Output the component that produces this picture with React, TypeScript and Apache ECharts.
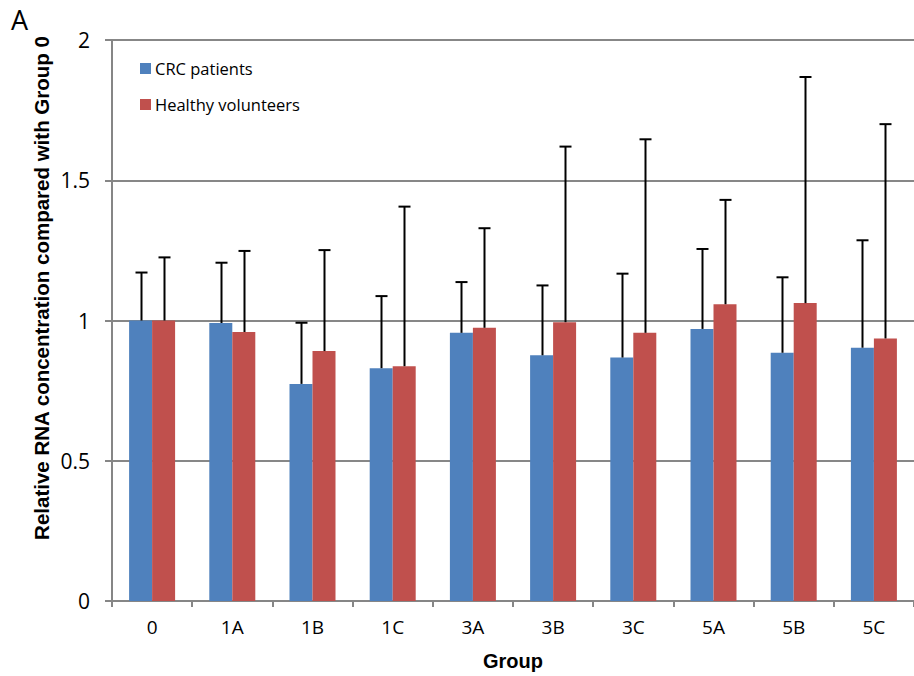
import React, { useEffect, useRef } from "react";
import * as echarts from "echarts";

const categories = ["0", "1A", "1B", "1C", "3A", "3B", "3C", "5A", "5B", "5C"];
const crcValues = [1.0, 0.991, 0.774, 0.83, 0.956, 0.876, 0.868, 0.97, 0.885, 0.903];
const crcUpper = [1.171, 1.206, 0.992, 1.087, 1.137, 1.125, 1.167, 1.255, 1.154, 1.286];
const healthyValues = [1.0, 0.959, 0.891, 0.837, 0.974, 0.994, 0.956, 1.058, 1.062, 0.936];
const healthyUpper = [1.225, 1.248, 1.251, 1.406, 1.329, 1.62, 1.646, 1.43, 1.868, 1.7];
const yTicks = [0, 0.5, 1, 1.5, 2];

const BAR_W = 23;

function errorSeries(name: string, values: number[], upper: number[], offset: number) {
  return {
    type: "custom",
    name: name + " error",
    z: 5,
    silent: true,
    data: values.map((v, i) => [i, v, upper[i]]),
    renderItem: (_params: any, api: any) => {
      const idx = api.value(0);
      const p0 = api.coord([idx, api.value(1)]);
      const p1 = api.coord([idx, api.value(2)]);
      const x = Math.round(p0[0] + offset) + 0.5;
      const style = { stroke: "#000", lineWidth: 2 };
      return {
        type: "group",
        children: [
          { type: "line", shape: { x1: x, y1: p0[1], x2: x, y2: p1[1] }, style },
          { type: "line", shape: { x1: x - 6, y1: p1[1], x2: x + 6, y2: p1[1] }, style },
        ],
      };
    },
  };
}

export default function App() {
  const ref = useRef<HTMLDivElement>(null);
  useEffect(() => {
    document.body.style.margin = "0";
    const chart = echarts.init(ref.current!, null, { renderer: "svg" });
    const labelFont = "'Open Sans', 'Liberation Sans', sans-serif";
    chart.setOption({
      animation: false,
      backgroundColor: "#fff",
      grid: { left: 112, top: 40, width: 806, height: 561, containLabel: false },
      legend: {
        orient: "vertical",
        left: 140,
        top: 60,
        padding: 0,
        itemWidth: 11,
        itemHeight: 11,
        itemGap: 19,
        icon: "rect",
        data: ["CRC patients", "Healthy volunteers"],
        textStyle: { fontFamily: labelFont, fontSize: 16.5, color: "#000", lineHeight: 15, padding: [0, 0, 0, -1] },
      },
      xAxis: {
        type: "category",
        data: categories,
        boundaryGap: true,
        axisLine: { lineStyle: { color: "#868686", width: 2 } },
        axisTick: { show: true, length: 6, lineStyle: { color: "#868686", width: 2 } },
        axisLabel: { fontFamily: labelFont, fontSize: 19, color: "#000", margin: 16 },
        name: "Group",
        nameLocation: "middle",
        nameGap: 50,
        nameTextStyle: { fontFamily: "'Liberation Sans', Arial, sans-serif", fontWeight: "bold", fontSize: 20, color: "#000" },
      },
      yAxis: {
        type: "value",
        min: yTicks[0],
        max: yTicks[yTicks.length - 1],
        interval: 0.5,
        axisLine: { show: true, lineStyle: { color: "#868686", width: 2 } },
        axisTick: { show: true, length: 7, lineStyle: { color: "#868686", width: 2 } },
        axisLabel: { fontFamily: labelFont, fontSize: 21, color: "#000", margin: 22 },
        splitLine: { show: true, lineStyle: { color: "#878787", width: 2 } },
      },
      graphic: [
        {
          type: "text",
          left: 11,
          top: 6,
          style: { text: "A", fontFamily: "'Open Sans', 'Liberation Sans', sans-serif", fontSize: 27, fill: "#000" },
        },
        {
          type: "text",
          x: 41,
          y: 288,
          rotation: Math.PI / 2,
          style: {
            text: "Relative RNA concentration compared with Group 0",
            fontFamily: "'Liberation Sans', Arial, sans-serif",
            fontWeight: "bold",
            fontSize: 20.5,
            fill: "#000",
            align: "center",
            verticalAlign: "middle",
          },
        },
      ],
      series: [
        {
          name: "CRC patients",
          type: "bar",
          barWidth: BAR_W,
          barGap: "0%",
          data: crcValues,
          itemStyle: { color: "#4F81BD" },
          z: 3,
        },
        {
          name: "Healthy volunteers",
          type: "bar",
          barWidth: BAR_W,
          barGap: "0%",
          data: healthyValues,
          itemStyle: { color: "#C0504D" },
          z: 3,
        },
        errorSeries("CRC patients", crcValues, crcUpper, -BAR_W / 2),
        errorSeries("Healthy volunteers", healthyValues, healthyUpper, BAR_W / 2),
      ],
    });
    return () => chart.dispose();
  }, []);
  return <div ref={ref} style={{ width: 914, height: 676 }} />;
}
